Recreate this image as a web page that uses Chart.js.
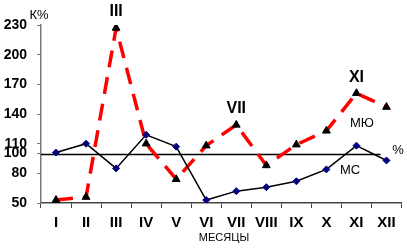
<!DOCTYPE html>
<html>
<head>
<meta charset="utf-8">
<script src="https://cdn.jsdelivr.net/npm/chart.js@4.4.0/dist/chart.umd.min.js"></script>
<style>
html, body { margin: 0; padding: 0; background: #fff; }
#wrap { width: 407px; height: 249px; }
</style>
</head>
<body>
<div id="wrap"><canvas id="chart" width="407" height="249"></canvas></div>
<script>
// Chart data
const months = ['I', 'II', 'III', 'IV', 'V', 'VI', 'VII', 'VIII', 'IX', 'X', 'XI', 'XII'];
const mcValues = [101, 110, 85, 119, 107, 53, 62, 66, 72, 84, 108, 93];
const myuValues = [53, 56, 227, 110, 74, 108, 129, 88, 109, 123, 161, 147];
const yTicks = [50, 80, 100, 110, 140, 170, 200, 230];
const peakIndexes = [2, 6, 10];

const FONT = 'Liberation Sans, Arial, sans-serif';

// reference line, series names and peak labels
const extras = {
    id: 'extras',
    beforeDatasetsDraw(chart) {
        const ctx = chart.ctx;
        const area = chart.chartArea;
        const y = Math.round(chart.scales.y.getPixelForValue(100)) + 0.5;
        ctx.save();
        ctx.strokeStyle = '#000';
        ctx.lineWidth = 1.5;
        ctx.beginPath();
        ctx.moveTo(area.left, y);
        ctx.lineTo(area.right - 21, y);
        ctx.stroke();
        ctx.restore();
    },
    afterDraw(chart) {
        const ctx = chart.ctx;
        const xs = chart.scales.x;
        const ys = chart.scales.y;
        ctx.save();
        ctx.fillStyle = '#000';
        ctx.textAlign = 'center';
        ctx.textBaseline = 'middle';

        ctx.font = 'bold 16px ' + FONT;
        peakIndexes.forEach(function(i) {
            ctx.fillText(months[i], xs.getPixelForValue(i), ys.getPixelForValue(myuValues[i]) - 16);
        });

        ctx.font = '13px ' + FONT;
        ctx.fillText('К%', 39, 15);
        ctx.fillText('МЮ', 362, 123);
        ctx.fillText('МС', 350, 170);
        ctx.fillText('%', 398, 150);

        ctx.font = '11px ' + FONT;
        ctx.fillText('МЕСЯЦЫ', 224, 238);
        ctx.restore();
    }
};

const ctx = document.getElementById('chart').getContext('2d');
const chart = new Chart(ctx, {
    type: 'line',
    data: {
        labels: months,
        datasets: [
            {
                label: 'МС',
                data: mcValues,
                borderColor: '#000',
                borderWidth: 1.5,
                pointStyle: 'rectRot',
                pointRadius: 3.5,
                pointBackgroundColor: '#00007f',
                pointBorderColor: '#00007f',
                pointBorderWidth: 1,
                tension: 0
            },
            {
                label: 'МЮ',
                data: myuValues,
                borderColor: '#ff0000',
                borderWidth: 3.5,
                borderDash: [17, 10],
                pointStyle: 'triangle',
                pointRadius: 4.5,
                pointBackgroundColor: '#000',
                pointBorderColor: '#000',
                pointBorderWidth: 1,
                tension: 0
            }
        ]
    },
    options: {
        responsive: false,
        animation: false,
        devicePixelRatio: 1,
        layout: { padding: { left: 0, right: 3, top: 25, bottom: 0 } },
        plugins: {
            legend: { display: false },
            tooltip: { enabled: false }
        },
        scales: {
            x: {
                offset: true,
                border: { color: '#444', width: 1.5 },
                grid: { drawOnChartArea: false, drawTicks: true, tickLength: 5, color: '#444', offset: true },
                ticks: {
                    color: '#000',
                    font: { family: FONT, size: 15, weight: 'bold' },
                    padding: 6,
                    maxRotation: 0,
                    autoSkip: false
                },
                afterFit: function(scale) { scale.height = 46; }
            },
            y: {
                min: 50,
                max: 230,
                border: { color: '#777', width: 1.5 },
                grid: { drawOnChartArea: false, drawTicks: true, tickLength: 4, color: '#777' },
                ticks: {
                    color: '#000',
                    font: { family: FONT, size: 14, weight: 'bold' },
                    padding: 10,
                    autoSkip: false
                },
                afterBuildTicks: function(scale) {
                    scale.ticks = yTicks.map(function(v) { return { value: v }; });
                },
                afterFit: function(scale) { scale.width = 41; }
            }
        }
    },
    plugins: [extras]
});
</script>
</body>
</html>
